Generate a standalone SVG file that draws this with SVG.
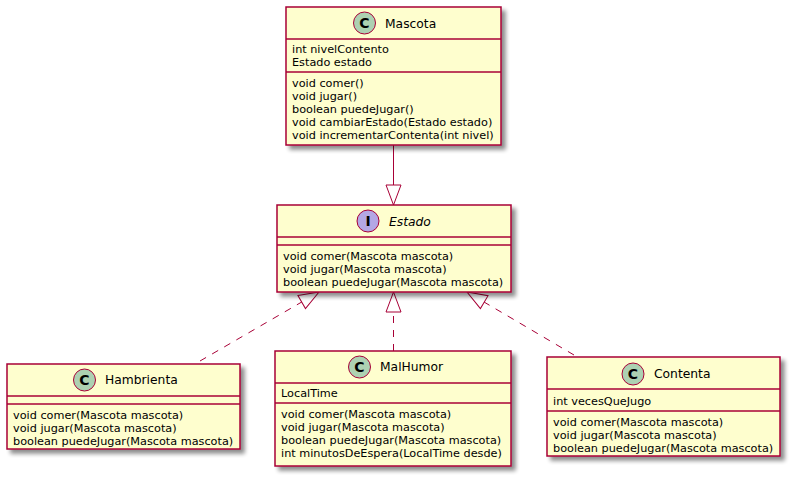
<svg xmlns="http://www.w3.org/2000/svg" width="798" height="481" viewBox="0 0 798 481">
<defs>
<filter id="sh" x="-5%" y="-5%" width="115%" height="120%">
<feGaussianBlur in="SourceAlpha" stdDeviation="2"/>
<feOffset dx="4" dy="4" result="b"/>
<feComponentTransfer><feFuncA type="linear" slope="0.45"/></feComponentTransfer>
<feMerge><feMergeNode/><feMergeNode in="SourceGraphic"/></feMerge>
</filter>
<marker id="ext" markerUnits="userSpaceOnUse" markerWidth="24" markerHeight="18" viewBox="0 0 24 18" refX="21" refY="9" orient="auto">
<path d="M1,1.5 L21,9 L1,16.5 Z" fill="#FFFFFF" stroke="#A80036" stroke-width="1"/>
</marker>
</defs>
<style>
.box{fill:#FEFECE;stroke:#A80036;stroke-width:1.5}
.sep{stroke:#A80036;stroke-width:1.5}
.t{font-family:"DejaVu Sans",sans-serif;font-size:11.25px;fill:#000}
.h{font-family:"DejaVu Sans",sans-serif;font-size:12.3px;fill:#000}
.ci{fill:#ADD1B2;stroke:#A80036;stroke-width:1}
.ii{fill:#B4A7E5;stroke:#A80036;stroke-width:1}
.cl{font-family:"DejaVu Sans",sans-serif;font-size:14px;font-weight:bold;fill:#000;text-anchor:middle}
.ln{stroke:#A80036;stroke-width:1;fill:none}
.dl{stroke:#A80036;stroke-width:1;fill:none;stroke-dasharray:7,7}
</style>
<rect width="798" height="481" fill="#FFFFFF"/>

<g id="connectors">
<line class="ln" x1="393.5" y1="145" x2="393.5" y2="205" marker-end="url(#ext)"/>
<line class="dl" x1="200" y1="361" x2="319" y2="292" marker-end="url(#ext)"/>
<line class="dl" x1="393.5" y1="351" x2="393.5" y2="292" marker-end="url(#ext)"/>
<line class="dl" x1="574" y1="355" x2="467" y2="292" marker-end="url(#ext)"/>
</g>

<g id="Mascota">
<rect class="box" x="286" y="7" width="215" height="138" filter="url(#sh)"/>
<line class="sep" x1="286" y1="39" x2="501" y2="39"/>
<line class="sep" x1="286" y1="72" x2="501" y2="72"/>
<circle class="ci" cx="364.5" cy="23" r="11"/>
<text class="cl" x="364.5" y="28">C</text>
<text class="h" x="385" y="27.5">Mascota</text>
<text class="t" x="292" y="53">int nivelContento</text>
<text class="t" x="292" y="66">Estado estado</text>
<text class="t" x="292" y="86.5">void comer()</text>
<text class="t" x="292" y="99.5">void jugar()</text>
<text class="t" x="292" y="112.5">boolean puedeJugar()</text>
<text class="t" x="292" y="125.5">void cambiarEstado(Estado estado)</text>
<text class="t" x="292" y="138.5">void incrementarContenta(int nivel)</text>
</g>

<g id="Estado">
<rect class="box" x="277" y="205" width="234" height="87" filter="url(#sh)"/>
<line class="sep" x1="277" y1="237" x2="511" y2="237"/>
<line class="sep" x1="277" y1="245" x2="511" y2="245"/>
<circle class="ii" cx="368" cy="221" r="11"/>
<text class="cl" x="368" y="226">I</text>
<text class="h" x="389" y="225.5" font-style="italic">Estado</text>
<text class="t" x="283" y="259.5">void comer(Mascota mascota)</text>
<text class="t" x="283" y="272.5">void jugar(Mascota mascota)</text>
<text class="t" x="283" y="285.5">boolean puedeJugar(Mascota mascota)</text>
</g>

<g id="Hambrienta">
<rect class="box" x="7" y="364" width="233" height="85" filter="url(#sh)"/>
<line class="sep" x1="7" y1="396" x2="240" y2="396"/>
<line class="sep" x1="7" y1="404" x2="240" y2="404"/>
<circle class="ci" cx="84.5" cy="380" r="11"/>
<text class="cl" x="84.5" y="385">C</text>
<text class="h" x="105" y="384">Hambrienta</text>
<text class="t" x="13" y="418.5">void comer(Mascota mascota)</text>
<text class="t" x="13" y="431.5">void jugar(Mascota mascota)</text>
<text class="t" x="13" y="444.5">boolean puedeJugar(Mascota mascota)</text>
</g>

<g id="MalHumor">
<rect class="box" x="275" y="351" width="236" height="115" filter="url(#sh)"/>
<line class="sep" x1="275" y1="383" x2="511" y2="383"/>
<line class="sep" x1="275" y1="403" x2="511" y2="403"/>
<circle class="ci" cx="359.5" cy="367" r="11"/>
<text class="cl" x="359.5" y="372">C</text>
<text class="h" x="380" y="371">MalHumor</text>
<text class="t" x="281" y="397">LocalTime</text>
<text class="t" x="281" y="418">void comer(Mascota mascota)</text>
<text class="t" x="281" y="431">void jugar(Mascota mascota)</text>
<text class="t" x="281" y="444">boolean puedeJugar(Mascota mascota)</text>
<text class="t" x="281" y="457">int minutosDeEspera(LocalTime desde)</text>
</g>

<g id="Contenta">
<rect class="box" x="547" y="357" width="233" height="99" filter="url(#sh)"/>
<line class="sep" x1="547" y1="389" x2="780" y2="389"/>
<line class="sep" x1="547" y1="411" x2="780" y2="411"/>
<circle class="ci" cx="633" cy="374" r="11"/>
<text class="cl" x="633" y="379">C</text>
<text class="h" x="654" y="378">Contenta</text>
<text class="t" x="553" y="405">int vecesQueJugo</text>
<text class="t" x="553" y="426">void comer(Mascota mascota)</text>
<text class="t" x="553" y="439">void jugar(Mascota mascota)</text>
<text class="t" x="553" y="452">boolean puedeJugar(Mascota mascota)</text>
</g>
</svg>
